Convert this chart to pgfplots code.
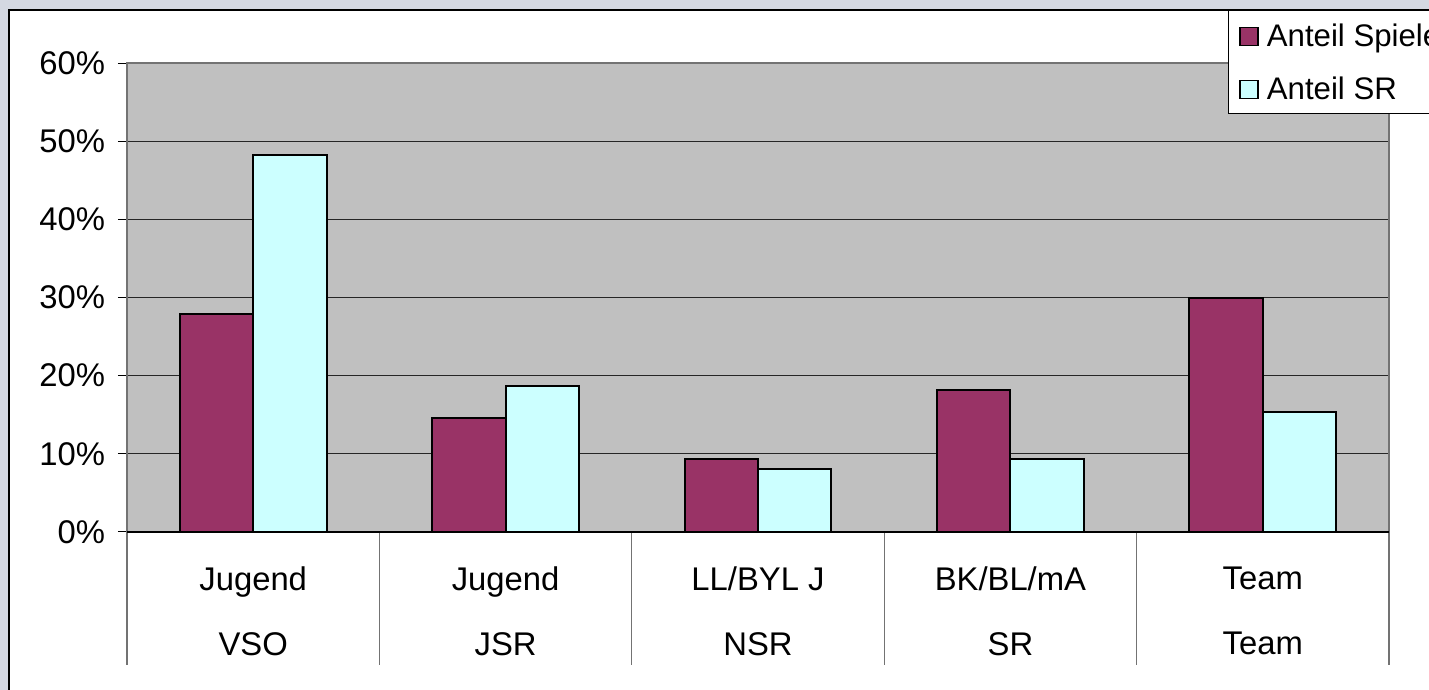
\documentclass[border=0pt]{standalone}
\usepackage{pgfplots}
\pgfplotsset{compat=1.18}
\usepackage{fontspec}
\setmainfont{Liberation Sans}
\definecolor{bggray}{RGB}{212,216,226}
\definecolor{plotgray}{RGB}{192,192,192}
\definecolor{maroon}{RGB}{153,51,102}
\definecolor{lcyan}{RGB}{204,255,255}
\begin{document}
\begin{tikzpicture}
\useasboundingbox (0,0) rectangle (714.5pt,345pt);
\clip (0,0) rectangle (714.5pt,345pt);
\fill[bggray] (0,0) rectangle (714.5pt,345pt);
\filldraw[fill=white,draw=black,line width=0.6pt] (4.5pt,-10pt) rectangle (730pt,340pt);
\begin{axis}[
  at={(63.5pt,79pt)}, anchor=south west,
  scale only axis, width=631pt, height=234.5pt,
  clip=false,
  xmin=-0.5, xmax=4.5, ymin=0, ymax=60,
  ytick={0,10,...,60},
  ytick pos=left,
  yticklabel={\pgfmathprintnumber{\tick}\%},
  /pgf/number format/assume math mode=true,
  ymajorgrids, grid style={black!85, line width=0.5pt},
  axis background/.style={fill=plotgray},
  axis line style={draw=black!55, line width=0.6pt},
  tick align=outside, major tick length=4.5pt,
  tick style={black, line width=0.5pt},
  ticklabel style={font=\fontsize{16.4}{19}\selectfont},
  yticklabel style={xshift=-3pt},
  xtick={0,1,2,3,4},
  xticklabels={{Jugend\\VSO},{Jugend\\JSR},{LL/BYL J\\NSR},{BK/BL/mA\\SR},{Team\\Team}},
  x tick style={draw=none},
  xticklabel style={align=center, font=\fontsize{16.4}{32.5}\selectfont, anchor=north, yshift=-9.3pt},
  legend style={at={(0.8724,1.113)}, anchor=north west, draw=black, line width=0.5pt, fill=white,
    font=\fontsize{15.6}{19}\selectfont, inner xsep=5.5pt, inner ysep=4pt, row sep=9.5pt,
    nodes={inner sep=0pt, text height=14pt, text depth=3pt},
    /tikz/every odd column/.append style={column sep=4pt}},
  legend cell align=left,
  legend image code/.code={\draw[#1, line width=0.7pt] (0pt,-5pt) rectangle (9pt,4pt);},
]
\addplot[ybar, bar width=36.65pt, bar shift=-18.33pt, fill=maroon, draw=black, line width=1pt]
  coordinates {(0,27.9) (1,14.6) (2,9.3) (3,18.2) (4,30.0)};
\addplot[ybar, bar width=36.65pt, bar shift=18.33pt, fill=lcyan, draw=black, line width=1pt]
  coordinates {(0,48.2) (1,18.7) (2,8.1) (3,9.3) (4,15.4)};
\legend{Anteil Spieler, Anteil SR}
\pgfplotsinvokeforeach{-0.5,0.5,1.5,2.5,3.5,4.5}{
  \draw[black!55, line width=0.6pt] (axis cs:#1,0) -- ++(0pt,-66.5pt);
}
\draw[black, line width=0.7pt] (axis cs:-0.5,0) -- (axis cs:4.5,0);
\end{axis}
\end{tikzpicture}
\end{document}
